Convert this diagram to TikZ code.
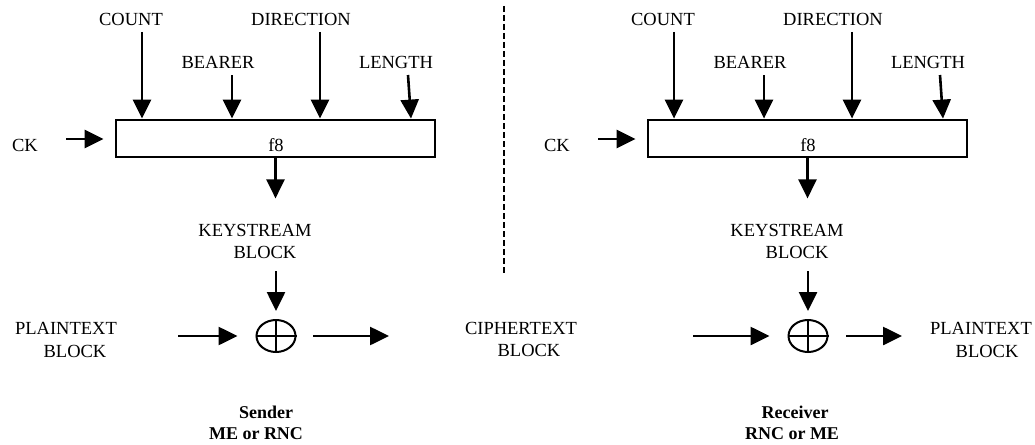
\documentclass[tikz,border=0pt]{standalone}
\usepackage{fontspec}
\setmainfont{Liberation Serif}
\usetikzlibrary{arrows.meta,shapes.geometric,calc}
\tikzset{
  lbl/.style={anchor=base,inner sep=0pt,font=\fontsize{18.5}{22}\selectfont},
  blbl/.style={anchor=base,inner sep=0pt,font=\fontsize{18}{22}\selectfont\bfseries},
  fbox/.style={draw,line width=2.8pt,minimum width=319pt,minimum height=37pt,inner sep=0pt},
  arr/.style={line width=2.6pt,-{Triangle[length=19pt,width=18pt]}},
  xorc/.style={draw,ellipse,line width=2pt,minimum width=39pt,minimum height=32pt,inner sep=0pt},
  xline/.style={line width=2pt},
  divider/.style={line width=2.2pt,dash pattern=on 6pt off 3pt}
}
\begin{document}
\begin{tikzpicture}[x=1pt,y=-1pt]
\useasboundingbox (0,0) rectangle (1035,444);
\foreach \o/\p/\ins/\outs/\oute in {0/L/178/313/389,532/R/161/314/370}{
\begin{scope}[xshift=\o pt]
  \node[lbl] (\p count) at (131,26) {COUNT};
  \node[lbl] (\p bearer) at (218,68) {BEARER};
  \node[lbl] (\p dir) at (301,26) {DIRECTION};
  \node[lbl] (\p len) at (396,68) {LENGTH};
  \node[lbl] (\p ck) at (25,151) {CK};
  \node[fbox] (\p box) at (275.5,138.5) {};
  \node[lbl] (\p f8) at (276,151) {f8};
  \node[lbl] (\p ks1) at (255,236) {KEYSTREAM};
  \node[lbl] (\p ks2) at (265,258) {BLOCK};
  \node[xorc] (\p x) at (276,336) {};
  \draw[xline] (\p x.north) -- (\p x.south);
  \draw[xline] (\p x.west) -- (\p x.east);
  \coordinate (\p cA) at (142,32);
  \coordinate (\p cB) at (232,75);
  \coordinate (\p cC) at (320,32);
  \coordinate (\p cD) at (408,75);
  \coordinate (\p ckS) at (66,139);
  \coordinate (\p ksA) at (276,271);
  \coordinate (\p inS) at (\ins,336);
  \coordinate (\p outS) at (\outs,336);
  \coordinate (\p outE) at (\oute,336);
  \draw[arr] (\p cA) -- (\p cA |- \p box.north);
  \draw[arr] (\p cB) -- (\p cB |- \p box.north);
  \draw[arr] (\p cC) -- (\p cC |- \p box.north);
  \draw[arr] (\p cD) -- ($(\p cD |- \p box.north)+(3,0)$);
  \draw[arr] (\p ckS) -- ($(\p ckS -| \p box.west)+(-11,0)$);
  \draw[arr] (\p box.south) -- ($(\p box.south)+(0,40)$);
  \draw[arr] (\p ksA) -- ($(\p x.north)+(0,-8)$);
  \draw[arr] (\p inS) -- ($(\p inS -| \p x.west)+(-18,0)$);
  \draw[arr] (\p outS) -- (\p outE);
\end{scope}}
\coordinate (dtop) at (504,6);
\coordinate (dbot) at (504,273);
\draw[divider] (dtop) -- (dbot);
\node[lbl] (pt1) at (66,334) {PLAINTEXT};
\node[lbl] (pt2) at (75,357) {BLOCK};
\node[lbl] (ct1) at (521,334) {CIPHERTEXT};
\node[lbl] (ct2) at (529,356) {BLOCK};
\node[lbl] (pr1) at (981,334) {PLAINTEXT};
\node[lbl] (pr2) at (987,357) {BLOCK};
\node[blbl] (snd1) at (266,418) {Sender};
\node[blbl] (snd2) at (256,439) {ME or RNC};
\node[blbl] (rcv1) at (795,418) {Receiver};
\node[blbl] (rcv2) at (792,439) {RNC or ME};
\end{tikzpicture}
\end{document}
